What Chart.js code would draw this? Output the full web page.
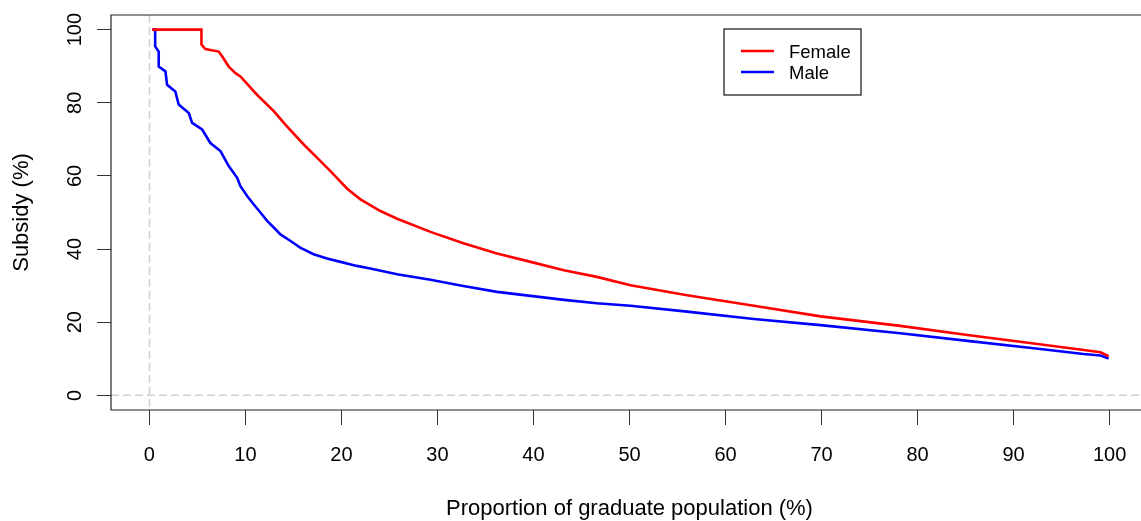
<!DOCTYPE html>
<html>
<head>
<meta charset="utf-8">
<script src="https://cdn.jsdelivr.net/npm/chart.js@4.4.1/dist/chart.umd.min.js"></script>
<style>
html,body{margin:0;padding:0;background:#fff;overflow:hidden;}
#wrap{width:1141px;height:521px;overflow:hidden;position:relative;}
canvas{display:block;}
</style>
</head>
<body>
<div id="wrap"><canvas id="c" width="1160" height="521"></canvas></div>
<script>
// ---- data ----
const femaleX = [0.3,5.42,5.42,5.83,7.22,7.57,8.26,8.96,9.48,11.2,12.95,14.3,16.07,17.45,18.85,20.6,21.98,24.06,25.8,29.27,32.7,36.2,39.7,43.16,46.6,50.1,56.0,62.95,69.9,78.2,85.2,92.1,97.3,99.06,99.9];
const femaleY = [100,100,95.9,94.7,94.0,92.7,89.9,88.1,87.2,82.2,77.7,73.6,68.6,65.0,61.3,56.5,53.6,50.4,48.3,44.7,41.6,38.8,36.5,34.2,32.4,30.1,27.4,24.5,21.6,19.0,16.5,14.2,12.4,11.8,10.7];
const maleX = [0.3,0.6,0.6,0.97,0.97,1.67,1.84,2.7,3.05,4.1,4.45,5.49,6.35,7.4,8.26,9.14,9.48,10.18,10.87,11.56,12.26,12.95,13.65,14.7,15.7,17.1,18.5,19.9,21.6,23.0,25.8,29.27,32.7,36.2,39.7,43.2,46.6,50.1,56.0,62.95,69.9,78.2,85.2,92.1,97.3,99.06,99.9];
const maleY = [100,100,95.4,94.0,89.9,88.6,84.9,83.1,79.5,77.2,74.5,72.7,69.0,66.8,62.7,59.5,57.2,54.5,52.2,50.0,47.7,45.9,44.0,42.2,40.4,38.6,37.4,36.5,35.4,34.7,33.1,31.6,29.9,28.3,27.2,26.1,25.2,24.5,22.9,20.9,19.2,17.0,14.9,12.9,11.3,10.9,10.1];
const xTicks = [0,10,20,30,40,50,60,70,80,90,100];
const yTicks = [0,20,40,60,80,100];
const seriesNames = ['Female','Male'];
const xTitle = 'Proportion of graduate population (%)';
const yTitle = 'Subsidy (%)';

const FONT = '"Liberation Sans", Arial, sans-serif';
const toPts = (xs, ys) => xs.map((x, i) => ({x: x, y: ys[i]}));

const refPlugin = {
  id: 'refs',
  beforeDatasetsDraw(chart) {
    const {ctx, chartArea: a, scales: {x, y}} = chart;
    ctx.save();
    ctx.strokeStyle = '#d0d0d0';
    ctx.lineWidth = 1.5;
    ctx.setLineDash([8, 4]);
    const x0 = x.getPixelForValue(0), y0 = y.getPixelForValue(0);
    ctx.beginPath(); ctx.moveTo(x0, a.top); ctx.lineTo(x0, a.bottom); ctx.stroke();
    ctx.beginPath(); ctx.moveTo(a.left, y0); ctx.lineTo(a.right, y0); ctx.stroke();
    ctx.restore();
  },
  afterDraw(chart) {
    const {ctx, chartArea: a, scales: {y}} = chart;
    ctx.save();
    // box (right side lies outside the visible window)
    ctx.strokeStyle = '#222';
    ctx.lineWidth = 1.2;
    ctx.beginPath();
    ctx.moveTo(a.right + 20, a.top);
    ctx.lineTo(a.left, a.top);
    ctx.lineTo(a.left, a.bottom);
    ctx.lineTo(a.right + 20, a.bottom);
    ctx.stroke();
    // rotated y tick labels
    ctx.fillStyle = '#000';
    ctx.font = '20px ' + FONT;
    ctx.textAlign = 'center';
    ctx.textBaseline = 'middle';
    y.ticks.forEach(t => {
      const py = y.getPixelForValue(t.value);
      ctx.save();
      ctx.translate(75, py);
      ctx.rotate(-Math.PI / 2);
      ctx.fillText(String(t.value), 0, 0);
      ctx.restore();
    });
    // legend
    const lx = 724, ly = 29, lw = 137, lh = 66;
    ctx.fillStyle = '#fff';
    ctx.fillRect(lx, ly, lw, lh);
    ctx.strokeStyle = '#111';
    ctx.lineWidth = 1.2;
    ctx.strokeRect(lx, ly, lw, lh);
    const rows = [51, 72];
    const trow = [52.5, 74];
    chart.data.datasets.forEach((ds, i) => {
      ctx.strokeStyle = ds.borderColor;
      ctx.lineWidth = 2.5;
      ctx.beginPath(); ctx.moveTo(741, rows[i]); ctx.lineTo(774, rows[i]); ctx.stroke();
      ctx.fillStyle = '#000';
      ctx.font = '18.5px ' + FONT;
      ctx.textAlign = 'left';
      ctx.textBaseline = 'middle';
      ctx.fillText(ds.label, 789, trow[i]);
    });
    ctx.restore();
  }
};

new Chart(document.getElementById('c'), {
  type: 'line',
  data: {
    datasets: [
      {label: seriesNames[0], data: toPts(femaleX, femaleY), borderColor: '#ff0000', borderWidth: 2.6, pointRadius: 0, tension: 0, fill: false},
      {label: seriesNames[1], data: toPts(maleX, maleY), borderColor: '#0000ff', borderWidth: 2.6, pointRadius: 0, tension: 0, fill: false}
    ]
  },
  options: {
    responsive: false,
    animation: false,
    devicePixelRatio: 1,
    layout: {padding: {top: 15, right: 12, left: 0, bottom: 0}},
    plugins: {legend: {display: false}, tooltip: {enabled: false}},
    scales: {
      x: {
        type: 'linear', min: -4, max: 104,
        afterBuildTicks: s => { s.ticks = xTicks.map(v => ({value: v})); },
        afterFit: s => { s.height = 111; },
        grid: {drawOnChartArea: false, drawTicks: true, tickLength: 15, color: '#333', lineWidth: 1},
        border: {display: false},
        ticks: {autoSkip: false, maxRotation: 0, minRotation: 0, padding: 18, color: '#000', font: {family: FONT, size: 20}},
        title: {display: true, text: xTitle, color: '#000', font: {family: FONT, size: 22, lineHeight: 1}, padding: {top: 0, bottom: 1}}
      },
      y: {
        type: 'linear', min: -4, max: 104,
        afterBuildTicks: s => { s.ticks = yTicks.map(v => ({value: v})); },
        afterFit: s => { s.width = 111; },
        grid: {drawOnChartArea: false, drawTicks: true, tickLength: 14, color: '#333', lineWidth: 1},
        border: {display: false},
        ticks: {display: false},
        title: {display: true, text: yTitle, color: '#000', font: {family: FONT, size: 22, lineHeight: 1}, padding: {top: 11, bottom: 0}}
      }
    }
  },
  plugins: [refPlugin]
});
</script>
</body>
</html>
